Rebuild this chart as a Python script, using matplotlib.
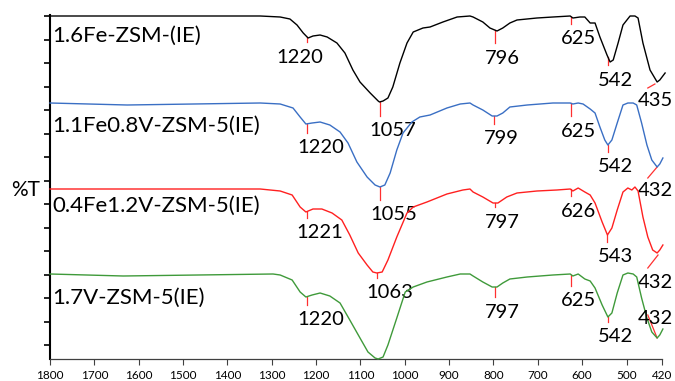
import numpy as np
import matplotlib
matplotlib.use("Agg")
import matplotlib.pyplot as plt
from matplotlib.transforms import offset_copy

plt.rcParams['font.family'] = ['Lato', 'DejaVu Sans']

# FTIR spectra, wavenumber (cm-1) vs %T (arbitrary offset units)
names = ["1.6Fe-ZSM-(IE)", "1.1Fe0.8V-ZSM-5(IE)", "0.4Fe1.2V-ZSM-5(IE)", "1.7V-ZSM-5(IE)"]

wn_black = [1800, 1326, 1281, 1259, 1243, 1229, 1218, 1207, 1191, 1175, 1153, 1135, 1117, 1101, 1078, 1060,
            1057, 1049, 1038, 1027, 1011, 995, 981, 959, 943, 914, 882, 853, 846, 824, 808, 792, 779, 763, 747,
            702, 666, 627, 621, 605, 594, 582, 571, 560, 544, 537, 530, 519, 508, 492, 481, 474, 463, 447, 431,
            425, 413]
t_black = [343, 343, 342, 340, 334, 326, 321, 323, 324, 322, 316, 306, 289, 277, 266, 258,
           257, 258, 261, 272, 296, 316, 327, 331, 332, 337, 342, 343, 342, 337, 331, 328, 331, 336, 339,
           341, 342, 343, 341, 342, 342, 336, 336, 322, 304, 297, 299, 316, 334, 343, 343, 341, 316, 289, 277,
           279, 286]

wn_blue = [1800, 1626, 1326, 1281, 1252, 1236, 1223, 1209, 1191, 1169, 1146, 1128, 1108, 1085, 1067, 1056,
           1045, 1033, 1018, 1004, 984, 966, 943, 905, 875, 853, 846, 824, 803, 792, 779, 763, 724, 666, 627,
           621, 609, 598, 582, 571, 560, 549, 542, 533, 521, 508, 497, 485, 477, 466, 454, 443, 431, 425, 418]
t_blue = [256, 254, 256, 255, 251, 242, 235, 236, 237, 234, 227, 216, 197, 182, 174, 172,
          174, 186, 209, 226, 237, 242, 244, 251, 255, 256, 254, 249, 243, 243, 246, 252, 254, 256, 256,
          255, 256, 255, 250, 246, 232, 219, 214, 219, 236, 254, 256, 256, 254, 236, 214, 199, 192, 195, 201]

wn_red = [1800, 1326, 1281, 1254, 1236, 1223, 1207, 1187, 1164, 1142, 1124, 1105, 1085, 1072, 1063, 1051,
          1038, 1018, 995, 981, 950, 905, 869, 853, 846, 824, 801, 790, 770, 747, 702, 657, 627, 621, 609,
          594, 582, 571, 555, 543, 533, 521, 508, 497, 488, 481, 474, 463, 452, 441, 431, 425, 418]
t_red = [170, 170, 168, 164, 152, 147, 150, 150, 146, 139, 124, 106, 94, 87, 86, 87,
         99, 122, 146, 152, 157, 165, 169, 170, 167, 162, 156, 156, 162, 166, 168, 169, 170, 168, 171,
         167, 164, 156, 137, 124, 131, 149, 167, 171, 169, 172, 168, 142, 122, 109, 106, 109, 114]

wn_green = [1800, 1635, 1297, 1281, 1254, 1236, 1223, 1209, 1191, 1169, 1146, 1124, 1101, 1083, 1067, 1060,
            1049, 1038, 1018, 999, 981, 950, 905, 875, 853, 846, 824, 803, 792, 779, 763, 724, 666, 627, 621,
            609, 594, 582, 571, 555, 542, 533, 521, 508, 497, 485, 477, 466, 454, 443, 431, 425, 418]
t_green = [85, 83, 85, 84, 79, 67, 62, 64, 66, 63, 56, 39, 21, 7, 1, 0,
           2, 14, 41, 67, 72, 77, 82, 85, 85, 83, 77, 72, 72, 76, 80, 82, 84, 85, 83,
           85, 80, 78, 71, 54, 42, 46, 66, 84, 86, 85, 82, 61, 41, 27, 21, 24, 30]

peaks = [["1220", "1057", "796", "625", "542"],
         ["1220", "1055", "799", "625", "542"],
         ["1221", "1063", "797", "626", "543"],
         ["1220", "797", "625", "542"]]
low_peak = ["435", "432", "432", "432"]

xticks = [1800, 1700, 1600, 1500, 1400, 1300, 1200, 1100, 1000, 900, 800, 700, 600, 500, 420]

# layout
colors = ["#000000", "#3A6FC4", "#FF2020", "#3F9A3A"]
tick_len = [[5, 14, 13, 7, 8], [9, 13, 8, 13, 7], [6, 5, 4, 7, 7], [8, 10, 11, 5]]
name_y = [323, 233, 153, 61]
diag = [((452, 271), (436, 275), 259), ((452, 181), (431, 192), 169),
        ((452, 91), (429, 104), 76), ((452, 44), (431, 21), 41)]

fig = plt.figure(figsize=(6.75, 3.81), dpi=100)
ax = fig.add_axes([50 / 675, 22 / 381, 612 / 675, 344 / 381])

series = [(wn_black, t_black), (wn_blue, t_blue), (wn_red, t_red), (wn_green, t_green)]
for i, (wn, t) in enumerate(series):
    ax.plot(wn, t, color=colors[i], lw=1.0, clip_on=False, zorder=3)
    ax.text(1794, name_y[i], names[i], fontsize=16, va='center', ha='left')
    wn_a = np.array(wn)[::-1]
    t_a = np.array(t)[::-1]
    for j, lab in enumerate(peaks[i]):
        p = float(lab)
        top = np.interp(p, wn_a, t_a)
        bot = top - tick_len[i][j]
        ax.plot([p, p], [top, bot], color="#FF3030", lw=0.9, zorder=2)
        dx = -31 if (i == 0 and j == 0) else -10
        tr = offset_copy(ax.transData, fig=fig, x=dx, y=-15, units='dots')
        ax.text(p, bot, lab, fontsize=14.5, ha='left', va='center', transform=tr)
    (x0, y0), (x1, y1), ly = diag[i]
    ax.plot([x0, x1], [y0, y1], color="#FF3030", lw=0.9, zorder=2, clip_on=False)
    ax.text(474, ly, low_peak[i], fontsize=14.5, ha='left', va='center')

ax.set_xlim(1800, 420)
ax.set_ylim(0, 344)
ax.set_xticks(xticks)
ax.set_xticklabels([str(v) for v in xticks], fontsize=8.5)
ax.set_yticks(np.arange(14, 344, 23.5))
ax.set_yticklabels([])
ax.tick_params(axis='y', direction='out', length=4, width=1.2, color='black')
ax.tick_params(axis='x', direction='out', length=4, width=0.8, color='#404040', pad=4)
for s in ['top', 'right']:
    ax.spines[s].set_visible(False)
ax.spines['left'].set_linewidth(1.5)
ax.spines['bottom'].set_color('#404040')
ax.spines['bottom'].set_linewidth(0.9)

fig.text(26 / 675, 1 - 190 / 381, "%T", fontsize=15, ha='center', va='center')

fig.savefig("out.png", dpi=100)
